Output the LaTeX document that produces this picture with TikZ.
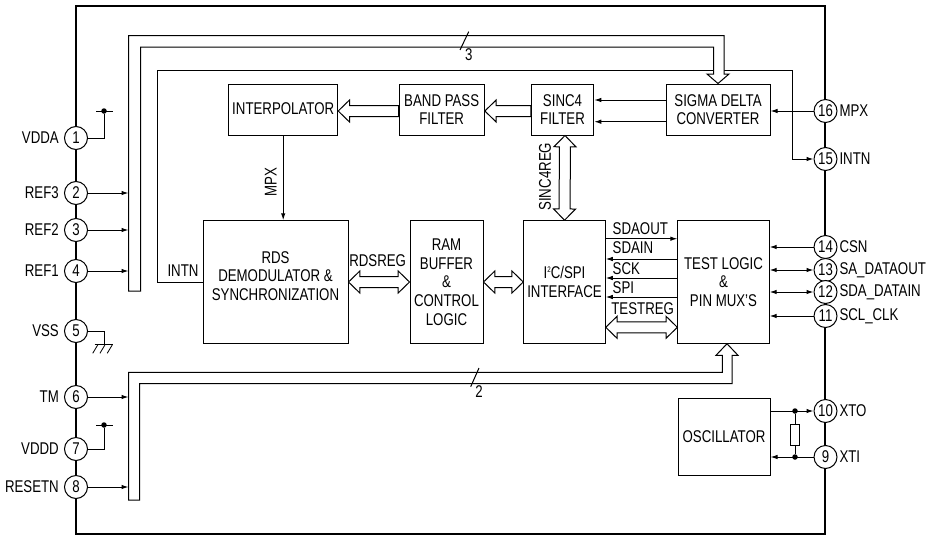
\documentclass[tikz,border=0pt]{standalone}
\usepackage{fontspec}
\setmainfont[FakeStretch=0.78]{Liberation Sans}
\usetikzlibrary{arrows.meta,calc}
\tikzset{
  tag/.style={inner sep=0pt, align=center},
  block/.style={draw, line width=1pt, fill=white, inner sep=0pt, align=center},
  pin/.style={circle, draw, line width=1pt, fill=white, minimum size=23pt, inner sep=0pt},
  dot/.style={circle, fill=black, minimum size=5.5pt, inner sep=0pt},
  sig/.style={line width=1pt, -{Latex[length=7pt,width=4.5pt]}},
  sigboth/.style={line width=1pt, {Latex[length=7pt,width=4.5pt]}-{Latex[length=7pt,width=4.5pt]}},
  wire/.style={line width=1pt},
  bus/.style={line width=1pt, fill=white, line join=miter},
}
% hollow arrow with two heads, tip to tip
\newcommand{\dblbus}[2]{
  \draw[bus] (#1) -- ($(#1)!11.3pt!(#2)!11pt!90:(#2)$) -- ($(#1)!11.3pt!(#2)!5.5pt!90:(#2)$)
    -- ($(#2)!11.3pt!(#1)!5.5pt!-90:(#1)$) -- ($(#2)!11.3pt!(#1)!11pt!-90:(#1)$) -- (#2)
    -- ($(#2)!11.3pt!(#1)!11pt!90:(#1)$) -- ($(#2)!11.3pt!(#1)!5.5pt!90:(#1)$)
    -- ($(#1)!11.3pt!(#2)!5.5pt!-90:(#2)$) -- ($(#1)!11.3pt!(#2)!11pt!-90:(#2)$) -- cycle;
}
% hollow arrow with one head, tail at #1, tip at #2
\newcommand{\onebus}[2]{
  \draw[bus] (#2) -- ($(#2)!11.3pt!(#1)!11pt!90:(#1)$) -- ($(#2)!11.3pt!(#1)!5.5pt!90:(#1)$)
    -- ($(#1)!5.5pt!-90:(#2)$) -- ($(#1)!5.5pt!90:(#2)$)
    -- ($(#2)!11.3pt!(#1)!5.5pt!-90:(#1)$) -- ($(#2)!11.3pt!(#1)!11pt!-90:(#1)$) -- cycle;
}
\begin{document}
\begin{tikzpicture}[x=1pt, y=-1pt, font=\fontsize{17}{18.7}\selectfont]
    \useasboundingbox (0,0) rectangle (931,536);
    % Package outline
    \draw[line width=2pt] (75.7,6) rectangle (825.3,534);
    % Blocks
    \node[block, minimum width=109, minimum height=51] (interp) at (283.2,109.5) {\raisebox{2pt}{INTERPOLATOR}};
    \node[block, minimum width=85.3, minimum height=51] (band) at (441.7,109.5) {BAND PASS\\FILTER};
    \node[block, minimum width=62.5, minimum height=51] (sinc) at (562.5,109.5) {SINC4\\FILTER};
    \node[block, minimum width=104, minimum height=51] (sigma) at (718,109.5) {SIGMA DELTA\\CONVERTER};
    \node[block, minimum width=145, minimum height=122.5] (rds) at (275.5,282) {RDS\\DEMODULATOR \&\\SYNCHRONIZATION\\[-6.7pt]\mbox{}};
    \node[block, minimum width=73, minimum height=122.5] (ram) at (446.5,282) {RAM\\BUFFER\\\&\\CONTROL\\LOGIC};
    \node[block, minimum width=81.5, minimum height=122.5] (iic) at (564.5,282) {I\raisebox{6pt}{\fontsize{8}{8}\selectfont 2}C/SPI\\INTERFACE};
    \node[block, minimum width=91.3, minimum height=122.5] (test) at (723.5,282) {TEST LOGIC\\\&\\PIN MUX'S};
    \node[block, minimum width=92, minimum height=77] (osc) at (724,436.5) {OSCILLATOR};
    % Pins
    \foreach \n/\y/\t in {1/138/VDDA, 2/193/REF3, 3/230/REF2, 4/271/REF1, 5/331/VSS, 6/397/TM, 7/449/VDDD, 8/487/RESETN} {
        \node[pin] (p\n) at (76,\y) {\n};
        \node[tag, anchor=east] (t\n) at (59,\y) {\t};
    }
    \foreach \n/\y/\t in {16/111/MPX, 15/159/INTN, 14/247/CSN, 13/270/SA\_DATAOUT, 12/292/SDA\_DATAIN, 11/316/SCL\_CLK, 10/411/XTO, 9/457/XTI} {
        \node[pin] (p\n) at (825.5,\y) {\n};
        \node[tag, anchor=west] (t\n) at (839.3,\y) {\t};
    }
    % INTN line goes under the bus
    \coordinate (intnleft) at (157,70.7);
    \coordinate (intnright) at (792,159);
    \draw[sig] (rds.west) -| (intnleft) -| (intnright) -- (p15);
    \node[tag] (intnlabel) at (183,271) {INTN};
    % Bus 3
    \coordinate (busthree) at (128.5,35.5);
    \draw[bus] (128.5,291) -- (busthree) -- (724,35.5) -- (724,74) -- (729,74) -- (sigma.north)
        -- (707,74) -- (713.7,74) -- (713.7,47) -- (140.7,47) -- (140.7,291) -- cycle;
    \coordinate (slashthreea) at (460,50);
    \coordinate (slashthreeb) at (468.7,31.7);
    \draw[wire] (slashthreea) -- (slashthreeb);
    \node[tag] (busthreelabel) at (468.7,55) {3};
    % Bus 2
    \coordinate (bustwo) at (128.5,372.3);
    \draw[bus] (128.5,500) -- (bustwo) -- (722.3,372.3) -- (722.3,355.3) -- (716,355.3) -- ([xshift=3.5pt]test.south)
        -- (738,355.3) -- (732,355.3) -- (732,383.5) -- (139.7,383.5) -- (139.7,500) -- cycle;
    \coordinate (slashtwoa) at (470.7,386.7);
    \coordinate (slashtwob) at (479,368);
    \draw[wire] (slashtwoa) -- (slashtwob);
    \node[tag] (bustwolabel) at (479,392) {2};
    % Pin inputs to the buses
    \foreach \n in {2,3,4} \draw[sig] (p\n) -- (p\n -| busthree);
    \foreach \n in {6,8} \draw[sig] (p\n) -- (p\n -| bustwo);
    % Supplies
    \node[dot] (vdda) at (104,111) {};
    \draw[wire] (p1) -| (vdda);
    \draw[wire] ([xshift=-8pt]vdda.center) -- ([xshift=9pt]vdda.center);
    \node[dot] (vddd) at (104,425) {};
    \draw[wire] (p7) -| (vddd);
    \draw[wire] ([xshift=-8pt]vddd.center) -- ([xshift=9pt]vddd.center);
    \coordinate (gnd) at (104,344.5);
    \draw[wire] (p5) -| (gnd);
    \draw[line width=1.5pt] (94.7,344.5) -- (112.7,344.5);
    \foreach \x in {97.7,104.9,112.2} \draw[line width=.8pt] (\x,345) -- (\x-5,353.3);
    % Top row
    \draw[sig] ([yshift=9.5pt]sigma.west) -- ([yshift=9.5pt]sigma.west -| sinc.east);
    \draw[sig] ([yshift=-12.2pt]sigma.west) -- ([yshift=-12.2pt]sigma.west -| sinc.east);
    \draw[sig] (p16) -- (p16 -| sigma.east);
    \onebus{[yshift=-1.5pt]sinc.west}{[yshift=-1.5pt]band.east}
    \onebus{[yshift=-1.5pt]band.west}{[yshift=-1.5pt]interp.east}
    \dblbus{[xshift=2.5pt]sinc.south}{iic.north}
    \node[tag, rotate=90] (sincreglabel) at (545,176.7) {SINC4REG};
    \draw[sig] (interp.south) -- (interp.south |- rds.north);
    \node[tag, rotate=90] (mpxlabel) at (270.7,182) {MPX};
    % Middle row
    \dblbus{rds.east}{ram.west}
    \node[tag] (rdsreglabel) at (377.7,261) {RDSREG};
    \dblbus{ram.east}{iic.west}
    \dblbus{[yshift=-45.3pt]iic.east}{[yshift=-45.3pt]test.west}
    \node[tag] (testreglabel) at (642.7,309) {TESTREG};
    % Serial lines
    \draw[sig] ([yshift=43.3pt]iic.east) -- ([yshift=43.3pt]test.west);
    \node[tag, anchor=west] (sdaoutlabel) at (612.5,228.5) {SDAOUT};
    \draw[sig] ([yshift=23pt]test.west) -- ([yshift=23pt]iic.east);
    \node[tag, anchor=west] (sdainlabel) at (612.5,247.5) {SDAIN};
    \draw[sig] ([yshift=4pt]test.west) -- ([yshift=4pt]iic.east);
    \node[tag, anchor=west] (scklabel) at (612.5,269) {SCK};
    \draw[sig] ([yshift=-15pt]test.west) -- ([yshift=-15pt]iic.east);
    \node[tag, anchor=west] (spilabel) at (612.5,287.5) {SPI};
    % Right side pins
    \draw[sig] (p14) -- (p14 -| test.east);
    \draw[sigboth] (p13) -- (p13 -| test.east);
    \draw[sigboth] (p12) -- (p12 -| test.east);
    \draw[sig] (p11) -- (p11 -| test.east);
    % Oscillator
    \node[block, minimum width=9.4, minimum height=21.3] (res) at (795,434.7) {};
    \node[dot] (xtodot) at (res |- p10) {};
    \node[dot] (xtidot) at (res |- p9) {};
    \draw[wire] (xtodot) -- (res) (res) -- (xtidot);
    \draw[sig] (p10 -| osc.east) -- (p10);
    \draw[sig] (p9) -- (p9 -| osc.east);
\end{tikzpicture}
\end{document}
